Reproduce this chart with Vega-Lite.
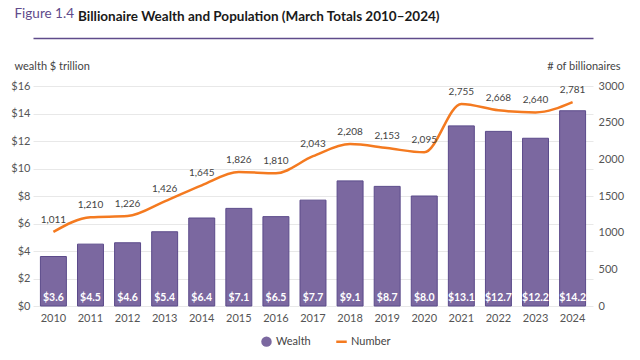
{
  "$schema": "https://vega.github.io/schema/vega-lite/v6.json",
  "width": 560,
  "height": 220,
  "autosize": {"type": "none"},
  "padding": {"left": 33, "top": 86, "right": 47, "bottom": 54},
  "title": {
    "text": "Billionaire Wealth and Population (March Totals 2010–2024)",
    "anchor": "start",
    "frame": "group",
    "dx": 45,
    "offset": -28,
    "baseline": "alphabetic",
    "font": "Lato",
    "fontSize": 13.5,
    "fontWeight": "bold",
    "color": "#1a1a1a"
  },
  "data": {
    "values": [
      {"year": "2010", "wealth": 3.6, "number": 1011},
      {"year": "2011", "wealth": 4.5, "number": 1210},
      {"year": "2012", "wealth": 4.6, "number": 1226},
      {"year": "2013", "wealth": 5.4, "number": 1426},
      {"year": "2014", "wealth": 6.4, "number": 1645},
      {"year": "2015", "wealth": 7.1, "number": 1826},
      {"year": "2016", "wealth": 6.5, "number": 1810},
      {"year": "2017", "wealth": 7.7, "number": 2043},
      {"year": "2018", "wealth": 9.1, "number": 2208},
      {"year": "2019", "wealth": 8.7, "number": 2153},
      {"year": "2020", "wealth": 8.0, "number": 2095},
      {"year": "2021", "wealth": 13.1, "number": 2755},
      {"year": "2022", "wealth": 12.7, "number": 2668},
      {"year": "2023", "wealth": 12.2, "number": 2640},
      {"year": "2024", "wealth": 14.2, "number": 2781}
    ]
  },
  "layer": [
    {
      "mark": {"type": "bar", "stroke": "#5b4a8a", "strokeWidth": 1},
      "encoding": {
        "x": {
          "field": "year", "type": "ordinal",
          "scale": {"paddingInner": 0.3, "paddingOuter": 0.2},
          "axis": {"orient": "bottom", "title": null, "labelAngle": 0, "domain": false, "ticks": false, "labelPadding": 6}
        },
        "y": {
          "field": "wealth", "type": "quantitative",
          "scale": {"domain": [0, 16]},
          "axis": {
            "orient": "left", "values": [0, 2, 4, 6, 8, 10, 12, 14, 16],
            "labelExpr": "'$' + datum.value",
            "title": "wealth $ trillion", "titleAngle": 0, "titleAlign": "left", "titleBaseline": "middle",
            "titleX": -19, "titleY": -20,
            "grid": true, "domain": false, "ticks": false, "labelPadding": 3
          }
        },
        "color": {
          "datum": "Wealth", "type": "nominal",
          "scale": {"domain": ["Wealth", "Number"], "range": ["#7b68a0", "#f47a20"]},
          "legend": {
            "orient": "none", "legendX": 228, "legendY": 250, "direction": "horizontal", "title": null,
            "labelFontSize": 11, "labelColor": "#444", "symbolSize": 110, "columnPadding": 20, "symbolType": "circle",
            "encode": {
              "symbols": {
                "update": {
                  "shape": {"signal": "datum.value === 'Number' ? 'stroke' : 'circle'"},
                  "fill": {"signal": "datum.value === 'Number' ? 'transparent' : '#7b68a0'"},
                  "stroke": {"signal": "datum.value === 'Number' ? '#f47a20' : '#7b68a0'"},
                  "strokeWidth": {"signal": "datum.value === 'Number' ? 2.5 : 0"}
                }
              }
            }
          }
        }
      }
    },
    {
      "mark": {"type": "text", "color": "white", "fontWeight": "bold", "fontSize": 10.5, "baseline": "bottom", "dy": -3, "font": "Lato"},
      "encoding": {
        "x": {"field": "year", "type": "ordinal", "axis": null},
        "y": {"datum": 0, "type": "quantitative", "scale": {"domain": [0, 16]}, "axis": null},
        "text": {"field": "wealth", "type": "quantitative", "format": "$.1f"}
      }
    },
    {
      "mark": {"type": "line", "interpolate": "monotone", "strokeWidth": 2.5},
      "encoding": {
        "x": {
          "field": "year", "type": "ordinal",
          "axis": {
            "orient": "top", "offset": 48, "labels": false, "ticks": false, "grid": false,
            "domain": true, "domainColor": "#5f4b8b", "domainWidth": 1.5,
            "title": "Figure 1.4", "titleAngle": 0, "titleAlign": "left", "titleBaseline": "alphabetic",
            "titleX": -19, "titleY": -21, "titleColor": "#5f4b8b", "titleFontWeight": "normal", "titleFontSize": 13.5, "titleFont": "Lato"
          }
        },
        "y": {
          "field": "number", "type": "quantitative",
          "scale": {"domain": [0, 3000]},
          "axis": {
            "orient": "right", "values": [0, 500, 1000, 1500, 2000, 2500, 3000], "format": "d",
            "title": "# of billionaires", "titleAngle": 0, "titleAlign": "right", "titleBaseline": "middle",
            "titleX": 27, "titleY": -20,
            "grid": false, "domain": false, "ticks": false, "labelPadding": 5
          }
        },
        "color": {
          "datum": "Number", "type": "nominal",
          "legend": {
            "orient": "none", "legendX": 228, "legendY": 250, "direction": "horizontal", "title": null,
            "labelFontSize": 11, "labelColor": "#444", "symbolSize": 110, "columnPadding": 20, "symbolType": "circle",
            "encode": {
              "symbols": {
                "update": {
                  "shape": {"signal": "datum.value === 'Number' ? 'stroke' : 'circle'"},
                  "fill": {"signal": "datum.value === 'Number' ? 'transparent' : '#7b68a0'"},
                  "stroke": {"signal": "datum.value === 'Number' ? '#f47a20' : '#7b68a0'"},
                  "strokeWidth": {"signal": "datum.value === 'Number' ? 2.5 : 0"}
                }
              }
            }
          }
        }
      }
    },
    {
      "mark": {"type": "text", "color": "#444", "fontSize": 10, "baseline": "bottom", "dy": -7, "font": "Lato"},
      "encoding": {
        "x": {"field": "year", "type": "ordinal", "axis": null},
        "y": {"field": "number", "type": "quantitative", "scale": {"domain": [0, 3000]}, "axis": null},
        "text": {"field": "number", "type": "quantitative", "format": ","}
      }
    }
  ],
  "resolve": {"scale": {"y": "independent"}, "axis": {"x": "independent", "y": "independent"}},
  "config": {
    "font": "Lato",
    "view": {"stroke": null},
    "axis": {"labelFont": "Lato", "labelFontSize": 11, "labelColor": "#555", "titleFont": "Lato", "titleFontSize": 11, "titleColor": "#444", "titleFontWeight": "normal", "gridColor": "#e8e8e8", "gridWidth": 1, "labelOverlap": false},
    "legend": {"labelFont": "Lato"}
  }
}
